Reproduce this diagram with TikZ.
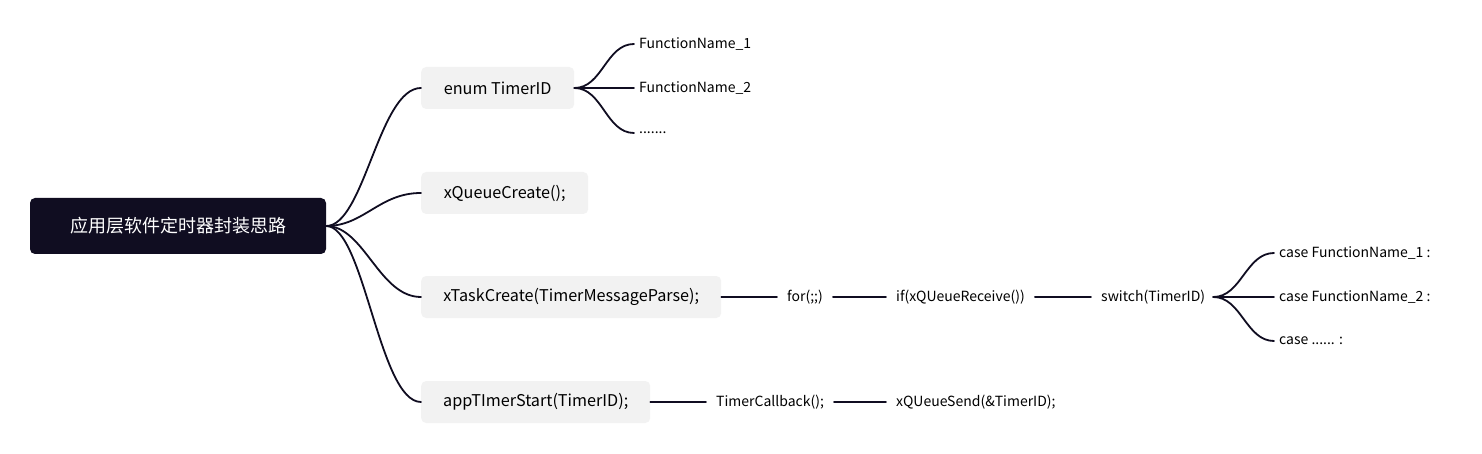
\documentclass[tikz,border=0pt]{standalone}
\usepackage{fontspec}
\setmainfont{Noto Sans CJK SC}
\definecolor{ink}{HTML}{100D21}
\definecolor{boxbg}{HTML}{F2F2F2}
\begin{document}
\begin{tikzpicture}[x=1pt,y=-1pt,
  rootbox/.style={fill=ink,text=white,rounded corners=5pt,minimum width=296pt,minimum height=56pt,inner sep=0pt,font=\fontsize{18}{21}\selectfont},
  subbox/.style={fill=boxbg,rounded corners=5pt,minimum height=42pt,inner sep=0pt,anchor=west,font=\fontsize{16.2}{19}\selectfont},
  chain/.style={anchor=west,inner xsep=10pt,inner ysep=2pt,font=\fontsize{14}{17}\selectfont},
  leaf/.style={anchor=west,inner xsep=5pt,inner ysep=2pt,font=\fontsize{14}{17}\selectfont},
  wire/.style={draw=ink,line width=1.8pt,line cap=round}
]
\path[fill=white] (0,0) rectangle (1482,454);
\node[rootbox] (root) at (178,226) {应用层软件定时器封装思路};
\node[subbox,minimum width=153pt] (enum) at (421,88) {enum TimerID};
\node[subbox,minimum width=167pt] (queue) at (421,193) {xQueueCreate();};
\node[subbox,minimum width=300pt] (task) at (421,297) {xTaskCreate(TimerMessageParse);};
\node[subbox,minimum width=229pt] (start) at (421,402) {appTImerStart(TimerID);};

\foreach \c in {enum,queue,task,start}
  \draw[wire] (root.east) .. controls +(38,0) and +(-42,0) .. (\c.west);

\node[leaf] (f1) at (634,44) {FunctionName\_1};
\node[leaf] (f2) at (634,88) {FunctionName\_2};
\node[leaf] (f3) at (634,133) {.......};
\foreach \c in {f1,f2,f3}
  \draw[wire] (enum.east) .. controls +(28,0) and +(-28,0) .. (\c.west);

\node[chain] (for) at (777,297) {for(;;)};
\node[chain] (ifq) at (886,297) {if(xQUeueReceive())};
\node[chain] (sw) at (1091,297) {switch(TimerID)};
\draw[wire] (task.east) -- (for.west);
\draw[wire] (for.east) -- (ifq.west);
\draw[wire] (ifq.east) -- (sw.west);

\node[leaf] (c1) at (1274,253) {case FunctionName\_1 :};
\node[leaf] (c2) at (1274,297) {case FunctionName\_2 :};
\node[leaf] (c3) at (1274,341) {case ...... :};
\foreach \c in {c1,c2,c3}
  \draw[wire] ([xshift=-2pt]sw.east) .. controls +(28,0) and +(-28,0) .. (\c.west);

\node[chain] (cb) at (706,402) {TimerCallback();};
\node[chain] (send) at (886,402) {xQUeueSend(\&TimerID);};
\draw[wire] (start.east) -- (cb.west);
\draw[wire] (cb.east) -- (send.west);
\end{tikzpicture}
\end{document}
